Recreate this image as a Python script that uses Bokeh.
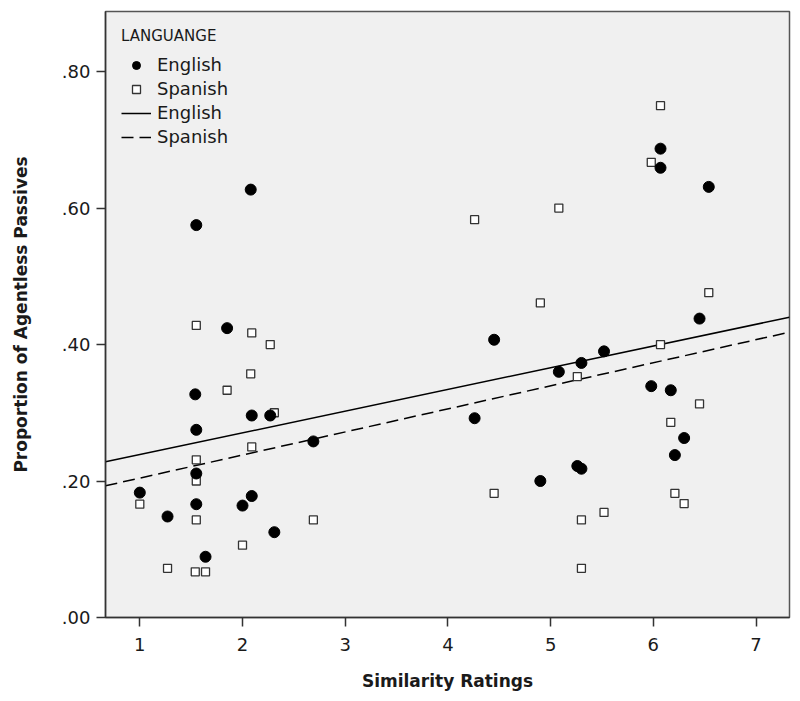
import numpy as np
from bokeh.plotting import figure
from bokeh.models import Range1d, FixedTicker, CustomJSTickFormatter, Legend, LegendItem, ColumnDataSource
from bokeh.embed import file_html
from bokeh.resources import INLINE

# ---- data ----
eng_x = [1.00, 1.27, 1.54, 1.55, 1.55, 1.55, 1.55, 1.64, 1.85, 2.00, 2.08, 2.09, 2.09, 2.27, 2.31, 2.69,
         4.26, 4.45, 4.90, 5.08, 5.26, 5.30, 5.30, 5.52, 5.98, 6.07, 6.07, 6.17, 6.21, 6.30, 6.45, 6.54]
eng_y = [0.183, 0.148, 0.327, 0.275, 0.211, 0.166, 0.575, 0.089, 0.424, 0.164, 0.627, 0.296, 0.178, 0.296,
         0.125, 0.258, 0.292, 0.407, 0.200, 0.360, 0.222, 0.218, 0.373, 0.390, 0.339, 0.687, 0.659, 0.333,
         0.238, 0.263, 0.438, 0.631]
spa_x = [1.00, 1.27, 1.54, 1.55, 1.55, 1.55, 1.55, 1.64, 1.85, 2.00, 2.08, 2.09, 2.09, 2.27, 2.31, 2.69,
         4.26, 4.45, 4.90, 5.08, 5.26, 5.30, 5.30, 5.52, 5.98, 6.07, 6.07, 6.17, 6.21, 6.30, 6.45, 6.54]
spa_y = [0.166, 0.072, 0.067, 0.231, 0.200, 0.143, 0.428, 0.067, 0.333, 0.106, 0.357, 0.250, 0.417, 0.400,
         0.300, 0.143, 0.583, 0.182, 0.461, 0.600, 0.353, 0.143, 0.072, 0.154, 0.667, 0.750, 0.400, 0.286,
         0.182, 0.167, 0.313, 0.476]

# fit lines (intercept, slope)
eng_fit = (0.207, 0.0318)
spa_fit = (0.1705, 0.0338)

x_ticks = [1, 2, 3, 4, 5, 6, 7]
y_ticks = [0.0, 0.2, 0.4, 0.6, 0.8]

X0, X1 = 0.666, 7.326
Y0, Y1 = 0.0, 0.888

FONT = "DejaVu Sans"

p = figure(width=792, height=693, output_backend="svg", toolbar_location=None,
           x_range=Range1d(X0, X1), y_range=Range1d(Y0, Y1),
           min_border_left=105, min_border_right=3, min_border_top=11, min_border_bottom=76)

p.background_fill_color = "#f0f0f0"
p.border_fill_color = "white"
p.outline_line_color = "#555555"
p.outline_line_width = 1.5
p.xgrid.visible = False
p.ygrid.visible = False

# axes
for ax in (p.xaxis[0], p.yaxis[0]):
    ax.axis_line_color = "#333333"
    ax.axis_line_width = 1.5
    ax.major_tick_line_color = "#333333"
    ax.major_tick_line_width = 1.5
    ax.major_tick_in = 0
    ax.major_tick_out = 9
    ax.minor_tick_line_color = None
    ax.major_label_text_font = FONT
    ax.major_label_text_font_size = "18px"
    ax.major_label_text_color = "#1a1a1a"
    ax.axis_label_text_font = FONT
    ax.axis_label_text_font_size = "17px"
    ax.axis_label_text_font_style = "bold"
    ax.axis_label_text_color = "#1a1a1a"

p.xaxis.ticker = FixedTicker(ticks=x_ticks)
p.yaxis.ticker = FixedTicker(ticks=y_ticks)
p.yaxis.formatter = CustomJSTickFormatter(code="return tick.toFixed(2).replace(/^0/, '');")
p.xaxis.axis_label = "Similarity Ratings"
p.yaxis.axis_label = "Proportion of Agentless Passives"
p.xaxis.major_label_standoff = 11
p.xaxis.axis_label_standoff = 17
p.yaxis.major_label_standoff = 6
p.yaxis.axis_label_standoff = 28

# fit lines
lx = np.array([X0, X1])
eng_line = p.line(lx, eng_fit[0] + eng_fit[1] * lx, line_color="black", line_width=1.5)
spa_line = p.line(lx, spa_fit[0] + spa_fit[1] * lx, line_color="black", line_width=1.5,
                  line_dash="12 6")

# points
eng_src = ColumnDataSource(dict(x=eng_x, y=eng_y))
spa_src = ColumnDataSource(dict(x=spa_x, y=spa_y))
spa_r = p.scatter("x", "y", source=spa_src, marker="square", size=8,
                  fill_color="white", line_color="#333333", line_width=1.3)
eng_r = p.scatter("x", "y", source=eng_src, marker="circle", size=11,
                  fill_color="black", line_color="black")

legend = Legend(items=[
    LegendItem(label="English", renderers=[eng_r]),
    LegendItem(label="Spanish", renderers=[spa_r]),
    LegendItem(label="English", renderers=[eng_line]),
    LegendItem(label="Spanish", renderers=[spa_line]),
], location="top_left")
legend.title = "LANGUANGE"
legend.title_text_font = FONT
legend.title_text_font_size = "15px"
legend.title_text_font_style = "normal"
legend.title_text_color = "#1a1a1a"
legend.title_standoff = 9
legend.label_text_font = FONT
legend.label_text_font_size = "18px"
legend.label_text_color = "#1a1a1a"
legend.background_fill_alpha = 0
legend.border_line_color = None
legend.margin = 16
legend.padding = 0
legend.glyph_width = 30
legend.glyph_height = 20
legend.label_standoff = 6
legend.spacing = 3
legend.label_height = 20
p.add_layout(legend)

open("out.html", "w").write(file_html(p, INLINE))
